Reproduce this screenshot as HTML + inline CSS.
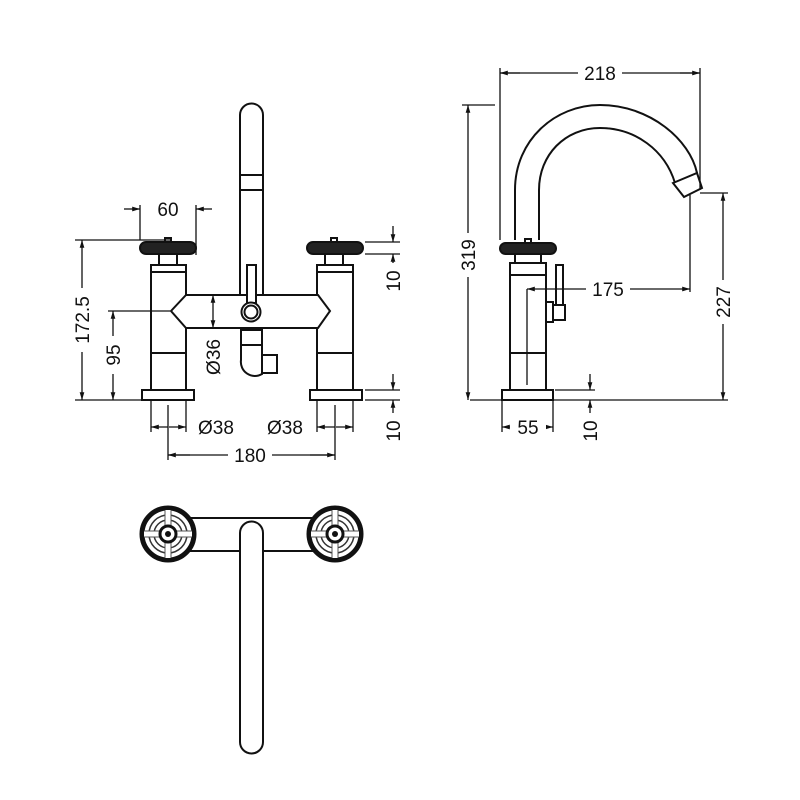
<!DOCTYPE html>
<html><head><style>body{margin:0;background:#fff}svg{display:block}text{font-family:"Liberation Sans",sans-serif;font-size:19px;fill:#111}</style></head><body>
<svg width="800" height="800" viewBox="0 0 800 800" xmlns="http://www.w3.org/2000/svg">
<defs>
<marker id="a" viewBox="0 0 10 10" refX="10" refY="5" markerWidth="6" markerHeight="6" orient="auto-start-reverse"><path d="M0,2 L10,5 L0,8z" fill="#111"/></marker>
<g id="wheel">
<circle r="26" fill="#fff" stroke="#111" stroke-width="5"/>
<circle r="19" fill="none" stroke="#333" stroke-width="1.5"/>
<circle r="14" fill="none" stroke="#333" stroke-width="1.5"/>
<rect x="-2.5" y="-24" width="5" height="48" fill="#fff"/><rect x="-24" y="-2.5" width="48" height="5" fill="#fff"/>
<path d="M-3,-24V24M3,-24V24M-24,-3H24M-24,3H24" stroke="#555" stroke-width="1"/>
<circle r="8" fill="#fff" stroke="#111" stroke-width="3"/>
<circle r="3" fill="#111"/>
</g>
</defs>
<g fill="none" stroke="#111" stroke-width="2">
<path d="M240,295V115A11.5,11.5 0 0 1 263,115V295" fill="#fff"/>
<path d="M240,175H263M240,190H263"/>
<rect x="151" y="265" width="35" height="125" fill="#fff"/>
<path d="M151,272H186M151,353H186"/>
<rect x="317" y="265" width="36" height="125" fill="#fff"/>
<path d="M317,272H353M317,353H353"/>
<rect x="159" y="254" width="18" height="11" fill="#fff"/>
<rect x="325" y="254" width="18" height="11" fill="#fff"/>
<rect x="165" y="238" width="6" height="5"/>
<rect x="331" y="238" width="6" height="5"/>
<rect x="140" y="242" width="56" height="12" rx="6" fill="#222" stroke="#111"/>
<rect x="307" y="242" width="56" height="12" rx="6" fill="#222" stroke="#111"/>
<path d="M186,295H318L330,311L318,328H186L171,311Z" fill="#fff"/>
<rect x="142" y="390" width="52" height="10" fill="#fff"/>
<rect x="310" y="390" width="52" height="10" fill="#fff"/>
<rect x="247" y="265" width="9" height="38" fill="#fff"/>
<circle cx="251" cy="312" r="9.5" fill="#fff"/>
<circle cx="251" cy="312" r="6.5"/>
<path d="M241,330H262V345H241ZM241,345V360A14,14 0 0 0 262,374V345M262,355H277V373H262" fill="#fff"/>
<path d="M515,240V190C515,140 555,105 600,105C650,105 690,140 697,173M539,240V190C539,155 565,128 600,128C635,128 665,150 675,183"/>
<path d="M673,183L697,173L702,188L684,197Z" fill="#fff"/>
<rect x="510" y="263" width="36" height="127" fill="#fff"/>
<path d="M510,275H546M510,353H546"/>
<rect x="515" y="253" width="26" height="10" fill="#fff"/>
<rect x="525" y="239" width="6" height="5"/>
<rect x="500" y="243" width="56" height="11" rx="5.5" fill="#222"/>
<rect x="502" y="390" width="51" height="10" fill="#fff"/>
<rect x="556" y="265" width="7" height="40" fill="#fff"/>
<path d="M546,302H553V322H546"/>
<rect x="553" y="305" width="12" height="15" fill="#fff"/>
<path d="M190,518H313M190,551H240M263,551H313"/>
<path d="M240,742V533A11.5,11.5 0 0 1 263,533V742A11.5,11.5 0 0 1 240,742Z" fill="#fff"/>
</g>
<use href="#wheel" x="168" y="534"/>
<use href="#wheel" x="335" y="534"/>
<g fill="none" stroke="#111" stroke-width="1.3">
<path d="M140,205V240M196,205V255"/>
<path d="M124,209H140" marker-end="url(#a)"/><path d="M212,209H196" marker-end="url(#a)"/>
<path d="M75,240H170M75,400H142M108,311H170"/>
<path d="M82,240V400" marker-start="url(#a)" marker-end="url(#a)"/>
<path d="M113,311V400" marker-start="url(#a)" marker-end="url(#a)"/>
<path d="M213,295V328" marker-start="url(#a)" marker-end="url(#a)"/>
<path d="M365,242H400M365,254H400M365,390H400M365,400H400"/>
<path d="M393,226V242" marker-end="url(#a)"/><path d="M393,270V254" marker-end="url(#a)"/>
<path d="M393,374V390" marker-end="url(#a)"/><path d="M393,416V400" marker-end="url(#a)"/>
<path d="M151,400V432M186,400V432M317,400V432M353,400V432M168,405V460M335,405V460"/>
<path d="M168,427H151" marker-end="url(#a)"/><path d="M169,427H186" marker-end="url(#a)"/>
<path d="M335,427H317" marker-end="url(#a)"/><path d="M336,427H353" marker-end="url(#a)"/>
<path d="M168,455H230M270,455H335"/><path d="M190,455H168" marker-end="url(#a)"/><path d="M310,455H335" marker-end="url(#a)"/>
<path d="M500,68V240M700,68V190"/>
<path d="M500,73H580M620,73H700"/><path d="M520,73H500" marker-end="url(#a)"/><path d="M680,73H700" marker-end="url(#a)"/>
<path d="M462,105H495M470,400H728M700,193H728"/>
<path d="M468,105V400" marker-start="url(#a)" marker-end="url(#a)"/>
<path d="M723,193V400" marker-start="url(#a)" marker-end="url(#a)"/>
<path d="M527,289V385M690,195V292"/>
<path d="M527,289H690" marker-start="url(#a)" marker-end="url(#a)"/>
<path d="M502,400V432M553,400V432"/>
<path d="M502,427H553" marker-start="url(#a)" marker-end="url(#a)"/>
<path d="M555,390H595"/>
<path d="M590,374V390" marker-end="url(#a)"/><path d="M590,416V400" marker-end="url(#a)"/>
</g>
<g>
<rect x="150" y="198" width="36" height="22" fill="#fff"/><text x="168" y="216" text-anchor="middle">60</text>
<rect x="72" y="288" width="20" height="64" fill="#fff"/><text transform="translate(89,320) rotate(-90)" text-anchor="middle">172.5</text>
<rect x="103" y="336" width="20" height="38" fill="#fff"/><text transform="translate(120,355) rotate(-90)" text-anchor="middle">95</text>
<text transform="translate(220,357) rotate(-90)" text-anchor="middle">Ø36</text>
<rect x="383" y="263" width="20" height="36" fill="#fff"/><text transform="translate(400,281) rotate(-90)" text-anchor="middle">10</text>
<rect x="383" y="413" width="20" height="36" fill="#fff"/><text transform="translate(400,431) rotate(-90)" text-anchor="middle">10</text>
<text x="216" y="434" text-anchor="middle">Ø38</text>
<text x="285" y="434" text-anchor="middle">Ø38</text>
<rect x="228" y="444" width="44" height="22" fill="#fff"/><text x="250" y="462" text-anchor="middle">180</text>
<rect x="578" y="62" width="44" height="22" fill="#fff"/><text x="600" y="80" text-anchor="middle">218</text>
<rect x="458" y="233" width="20" height="44" fill="#fff"/><text transform="translate(475,255) rotate(-90)" text-anchor="middle">319</text>
<rect x="586" y="278" width="44" height="22" fill="#fff"/><text x="608" y="296" text-anchor="middle">175</text>
<rect x="713" y="280" width="20" height="44" fill="#fff"/><text transform="translate(730,302) rotate(-90)" text-anchor="middle">227</text>
<rect x="510" y="416" width="36" height="22" fill="#fff"/><text x="528" y="434" text-anchor="middle">55</text>
<rect x="580" y="413" width="20" height="36" fill="#fff"/><text transform="translate(597,431) rotate(-90)" text-anchor="middle">10</text>
</g>
</svg>
</body></html>
